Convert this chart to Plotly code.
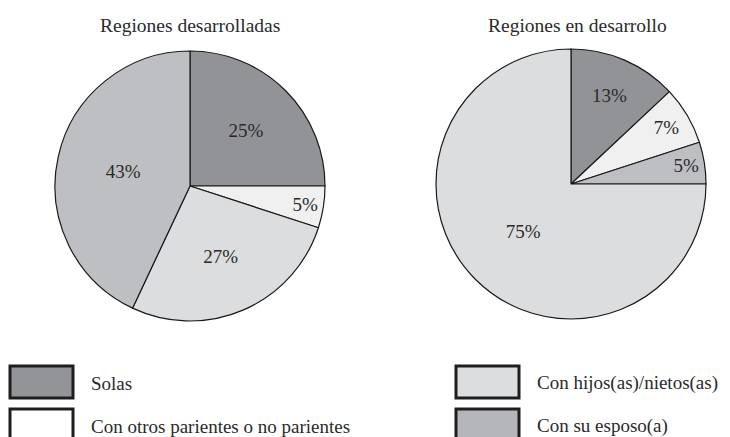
import plotly.graph_objects as go

W, H = 730, 437

# Data
titles = ["Regiones desarrolladas", "Regiones en desarrollo"]
left_labels = ["Solas", "Con otros parientes o no parientes", "Con hijos(as)/nietos(as)", "Con su esposo(a)"]
left_values = [25, 5, 27, 43]
right_labels = ["Solas", "Con otros parientes o no parientes", "Con su esposo(a)", "Con hijos(as)/nietos(as)"]
right_values = [13, 7, 5, 75]
legend_labels = ["Solas", "Con otros parientes o no parientes", "Con hijos(as)/nietos(as)", "Con su esposo(a)"]

pie_colors = {
    "Solas": "#929396",
    "Con otros parientes o no parientes": "#f0f0f0",
    "Con hijos(as)/nietos(as)": "#dcdddf",
    "Con su esposo(a)": "#bebfc2",
}
legend_colors = {
    "Solas": "#939498",
    "Con otros parientes o no parientes": "#ffffff",
    "Con hijos(as)/nietos(as)": "#dcdddf",
    "Con su esposo(a)": "#b5b6b9",
}

FONT = "Liberation Serif"
TXT = "#2a2a2a"


def px_x(x):
    return x / W


def px_y(y):
    return 1 - y / H


def pie_domain(cx, cy, r):
    return dict(x=[px_x(cx - r), px_x(cx + r)], y=[px_y(cy + r), px_y(cy - r)])


fig = go.Figure()
for labels, values, (cx, cy) in [(left_labels, left_values, (190, 186)),
                                  (right_labels, right_values, (571, 184))]:
    fig.add_trace(go.Pie(
        labels=labels,
        values=values,
        sort=False,
        direction="clockwise",
        rotation=0,
        marker=dict(colors=[pie_colors[l] for l in labels], line=dict(color="#1a1a1a", width=1.2)),
        texttemplate="%{value}%",
        textposition="inside",
        insidetextorientation="horizontal",
        textfont=dict(family=FONT, size=19, color=TXT),
        domain=pie_domain(cx, cy, 135),
        showlegend=False,
        hoverinfo="label+value",
    ))

annotations = []
for t, x in zip(titles, [190, 577]):
    annotations.append(dict(text=t, x=px_x(x), y=px_y(25), xref="paper", yref="paper",
                            showarrow=False, xanchor="center", yanchor="middle",
                            font=dict(family=FONT, size=19.5, color=TXT)))

shapes = []
# legend: 2 columns x 2 rows
box_x = [10, 456]
box_y = [366, 409]
box_w, box_h = 63, 32
for i, lab in enumerate(legend_labels):
    col, row = i // 2, i % 2
    x0, y0 = box_x[col], box_y[row]
    shapes.append(dict(type="rect", xref="paper", yref="paper",
                       x0=px_x(x0), x1=px_x(x0 + box_w), y0=px_y(y0 + box_h), y1=px_y(y0),
                       fillcolor=legend_colors[lab], line=dict(color="#1e1e1e", width=3)))
    annotations.append(dict(text=lab, x=px_x(x0 + box_w + 16), y=px_y(y0 + 17),
                            xref="paper", yref="paper", showarrow=False,
                            xanchor="left", yanchor="middle",
                            font=dict(family=FONT, size=19, color=TXT)))

fig.update_layout(
    width=W, height=H,
    margin=dict(l=0, r=0, t=0, b=0),
    paper_bgcolor="white", plot_bgcolor="white",
    annotations=annotations,
    shapes=shapes,
)

fig.write_html("out.html",
               config={"displayModeBar": False},
               post_script="document.body.style.margin='0';document.body.style.padding='0';")
